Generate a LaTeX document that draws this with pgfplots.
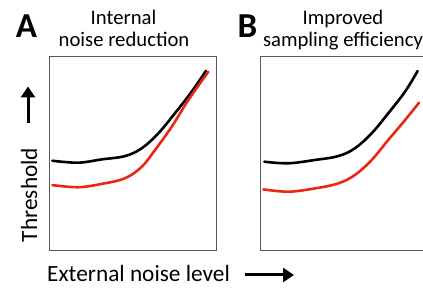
\documentclass[border=0pt]{standalone}
\usepackage{fontspec}
\setmainfont{Carlito}
\usepackage{pgfplots}
\pgfplotsset{compat=1.18}
\usetikzlibrary{arrows.meta}
\definecolor{myred}{RGB}{232,40,20}
\pgfplotsset{
  panel/.style={
    scale only axis, width=167.7pt, height=194.7pt,
    xmin=0, xmax=10, ymin=0, ymax=10,
    xtick=\empty, ytick=\empty,
    axis line style={draw=black!65, line width=0.9pt},
    clip=false,
  },
  curve/.style={smooth, tension=0.6, line width=2.6pt, no marks, line cap=round},
}
\begin{document}
\begin{tikzpicture}[x=1pt,y=1pt]
\useasboundingbox (0,0) rectangle (423,288);
\clip (0,0) rectangle (423,288);
\begin{axis}[panel, at={(49pt,37.3pt)}, anchor=south west]
\addplot[curve, black] coordinates {(0.20,4.62) (1.75,4.52) (3.14,4.69) (4.53,4.86) (5.53,5.26) (6.52,6.03) (7.51,7.06) (8.51,8.17) (9.36,9.24)};
\addplot[curve, myred] coordinates {(0.20,3.37) (1.75,3.26) (3.14,3.43) (4.53,3.72) (5.53,4.31) (6.32,5.17) (7.32,6.37) (8.31,7.74) (9.50,9.19)};
\end{axis}
\begin{axis}[panel, at={(260pt,37.3pt)}, anchor=south west]
\addplot[curve, black] coordinates {(0.26,4.57) (1.69,4.49) (3.28,4.66) (4.67,4.86) (5.66,5.26) (6.66,6.03) (7.65,7.06) (8.65,8.17) (9.40,9.23)};
\addplot[curve, myred] coordinates {(0.20,3.15) (1.69,3.03) (3.28,3.20) (4.67,3.46) (5.66,3.89) (6.66,4.66) (7.65,5.69) (8.65,6.71) (9.48,7.60)};
\end{axis}
\node[anchor=base, font=\fontsize{35}{35}\selectfont\bfseries, inner sep=0] at (26.5,250) {A};
\node[anchor=base, font=\fontsize{35}{35}\selectfont\bfseries, inner sep=0] at (247.5,250) {B};
\node[anchor=base, font=\fontsize{20.7}{20.7}\selectfont, inner sep=0] at (123.5,263) {Internal};
\node[anchor=base, font=\fontsize{20.7}{20.7}\selectfont, inner sep=0] at (124,241.3) {noise reduction};
\node[anchor=base, font=\fontsize{20.7}{20.7}\selectfont, inner sep=0] at (343,263) {Improved};
\node[anchor=base, font=\fontsize{20.7}{20.7}\selectfont, inner sep=0] at (343,241.3) {sampling efficiency};
\node[anchor=base, rotate=90, font=\fontsize{23.3}{23.3}\selectfont, inner sep=0] at (37,93) {Threshold};
\node[anchor=base west, font=\fontsize{23.3}{23.3}\selectfont, inner sep=0] at (47,6.3) {External noise level};
\draw[line width=3pt, -{Triangle[width=14pt,length=11pt]}] (28,165) -- (28,201.5);
\draw[line width=3pt, -{Triangle[width=14pt,length=11pt]}] (245,13) -- (294,13);
\end{tikzpicture}
\end{document}
